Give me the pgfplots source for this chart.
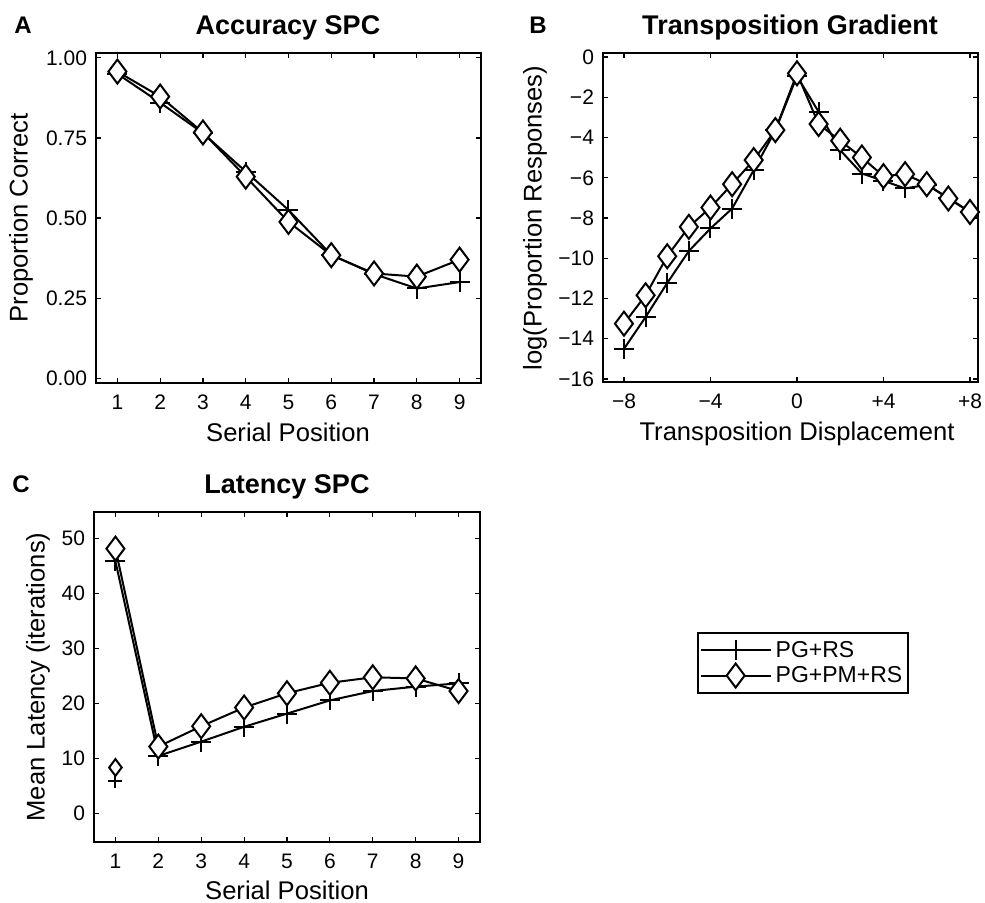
\documentclass[border=0pt]{standalone}
\usepackage{fontspec}
\setmainfont{Liberation Sans}
\usepackage{pgfplots}
\pgfplotsset{compat=1.18}
\newcommand{\fs}[1]{\fontsize{#1}{1.2\dimexpr#1\relax}\selectfont}
\pgfplotsset{
  panel/.style={
    scale only axis, anchor=south west,
    axis line style={line width=0.8pt},
    every tick/.style={black, line width=0.6pt},
    major tick length=2.5pt, tick align=inside,
    tick label style={font=\fs{10.5pt}},
    xticklabel style={yshift=-2.5pt},
    yticklabel style={xshift=-1pt},
    /pgf/number format/assume math mode=true,
  },
  sA/.style={black, line width=1pt, mark=+, mark size=5pt, mark options={line width=1pt}},
  sB/.style={black, line width=1pt, mark=diamond*, mark size=6pt, mark options={fill=white, draw=black, line width=1pt}},
}
\begin{document}
\begin{tikzpicture}
\useasboundingbox (0,0) rectangle (492.5pt,-451pt);
% Panel A
\begin{axis}[panel, at={(48pt,-191.5pt)}, width=192.5pt, height=165pt,
  xmin=0.5, xmax=9.5, ymin=-0.015, ymax=1.015,
  xtick={1,2,3,4,5,6,7,8,9},
  ytick={0,0.25,0.5,0.75,1}, yticklabels={0.00,0.25,0.50,0.75,1.00}]
\addplot[sA] coordinates {(1,0.95)(2,0.86)(3,0.765)(4,0.645)(5,0.525)(6,0.385)(7,0.325)(8,0.28)(9,0.30)};
\addplot[sB] coordinates {(1,0.957)(2,0.879)(3,0.767)(4,0.629)(5,0.488)(6,0.384)(7,0.327)(8,0.317)(9,0.37)};
\end{axis}
% Panel B
\begin{axis}[panel, at={(301.5pt,-191pt)}, width=187.5pt, height=164.5pt,
  xmin=-8.97, xmax=8.37, ymin=-16.15, ymax=0.2,
  xtick={-8,-4,0,4,8}, xticklabels={−8,−4,0,+4,+8},
  ytick={-16,-14,-12,-10,-8,-6,-4,-2,0},
  yticklabels={−16,−14,−12,−10,−8,−6,−4,−2,0}]
\addplot[sA] coordinates {(-8,-14.5)(-7,-12.92)(-6,-11.23)(-5,-9.64)(-4,-8.52)(-3,-7.53)(-2,-5.62)(-1,-3.65)(0,-0.95)(1,-2.72)(2,-4.63)(3,-5.79)(4,-6.15)(5,-6.53)(6,-6.35)(7,-7.0)(8,-7.7)};
\addplot[sB] coordinates {(-8,-13.25)(-7,-11.84)(-6,-9.9)(-5,-8.44)(-4,-7.48)(-3,-6.32)(-2,-5.12)(-1,-3.63)(0,-0.81)(1,-3.33)(2,-4.16)(3,-4.99)(4,-5.92)(5,-5.82)(6,-6.32)(7,-7.03)(8,-7.7)};
\end{axis}
% Panel C
\begin{axis}[panel, at={(47pt,-421pt)}, width=193pt, height=165pt,
  xmin=0.5, xmax=9.5, ymin=-5.25, ymax=54.75,
  xtick={1,2,3,4,5,6,7,8,9},
  ytick={0,10,20,30,40,50},
  legend style={at={(1.562,0.636)}, anchor=north west, draw=black, line width=0.8pt,
    font=\fs{11.5pt}, inner xsep=1pt, inner ysep=2pt, row sep=-1pt},
  legend cell align=left,
  legend image code/.code={\draw[mark repeat=2,mark phase=2,#1] plot coordinates {(0pt,0pt) (17.5pt,0pt) (35pt,0pt)};}]
\addplot[sA] coordinates {(1,45.8)(2,10.4)(3,13.0)(4,15.7)(5,18.1)(6,20.5)(7,22.2)(8,23.0)(9,23.6)};
\addplot[sB] coordinates {(1,48.1)(2,12.1)(3,15.8)(4,19.2)(5,21.8)(6,23.7)(7,24.7)(8,24.5)(9,22.2)};
\legend{PG+RS,PG+PM+RS}
\addplot[black, only marks, mark=+, mark size=3.5pt, mark options={line width=1pt}, forget plot] coordinates {(1,5.8)};
\addplot[black, only marks, mark=diamond*, mark size=4.2pt, mark options={fill=white, draw=black, line width=1pt}, forget plot] coordinates {(1,8.3)};
\end{axis}
% Titles, letters, labels
\node[font=\fs{12pt}\bfseries, anchor=base] at (11.5pt,-16.5pt) {A};
\node[font=\fs{13.5pt}\bfseries, anchor=base] at (144pt,-17pt) {Accuracy SPC};
\node[font=\fs{12pt}\bfseries, anchor=base] at (269pt,-16.5pt) {B};
\node[font=\fs{13.5pt}\bfseries, anchor=base] at (395pt,-17pt) {Transposition Gradient};
\node[font=\fs{12pt}\bfseries, anchor=base] at (10.5pt,-246pt) {C};
\node[font=\fs{13.5pt}\bfseries, anchor=base] at (143.5pt,-246.5pt) {Latency SPC};
\node[font=\fs{12.8pt}, anchor=base] at (144pt,-220.5pt) {Serial Position};
\node[font=\fs{12.8pt}, anchor=base] at (398.5pt,-220pt) {Transposition Displacement};
\node[font=\fs{12.8pt}, anchor=base] at (143.5pt,-449.5pt) {Serial Position};
\node[font=\fs{12.8pt}, rotate=90] at (10.5pt,-109pt) {Proportion Correct};
\node[font=\fs{12.8pt}, rotate=90] at (267.5pt,-109pt) {log(Proportion Responses)};
\node[font=\fs{12.8pt}, rotate=90] at (19pt,-338.5pt) {Mean Latency (iterations)};
\end{tikzpicture}
\end{document}
